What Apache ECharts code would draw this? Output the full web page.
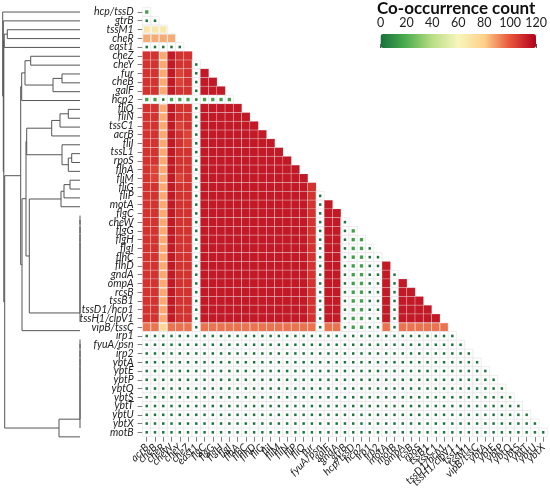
<!DOCTYPE html>
<html>
<head>
<meta charset="utf-8">
<script src="https://cdn.jsdelivr.net/npm/echarts@6/dist/echarts.min.js"></script>
<style>
html, body { margin: 0; padding: 0; background: #fff; }
#chart { width: 550px; height: 490px; }
</style>
</head>
<body>
<div id="chart"></div>
<script>
// rows in dendrogram order (top to bottom)
var rowGenes = ['hcp/tssD', 'gtrB', 'tssM1', 'cheR', 'east1', 'cheZ', 'cheY', 'fur', 'cheB', 'galF',
    'hcp2', 'fliQ', 'fliN', 'tssC1', 'acrB', 'fliI', 'tssL1', 'rpoS', 'flhA', 'fliM', 'fliG', 'fliP',
    'motA', 'flgC', 'cheW', 'flgG', 'flgH', 'flgI', 'flhC', 'flhD', 'gndA', 'ompA', 'rcsB', 'tssB1',
    'tssD1/hcp1', 'tssH1/clpV1', 'vipB/tssC', 'irp1', 'fyuA/psn', 'irp2', 'ybtA', 'ybtE', 'ybtP',
    'ybtQ', 'ybtS', 'ybtT', 'ybtU', 'ybtX', 'motB'];

// columns in alphabetical order
var colGenes = ['acrB', 'cheB', 'cheR', 'cheW', 'cheY', 'cheZ', 'east1', 'flgC', 'flgG', 'flgH', 'flgI',
    'flhA', 'flhC', 'flhD', 'fliG', 'fliI', 'fliM', 'fliN', 'fliP', 'fliQ', 'fur', 'fyuA/psn', 'galF',
    'gndA', 'gtrB', 'hcp/tssD', 'hcp2', 'irp1', 'irp2', 'motA', 'motB', 'ompA', 'rcsB', 'rpoS', 'tssB1',
    'tssC1', 'tssD1/hcp1', 'tssH1/clpV1', 'tssL1', 'tssM1', 'vipB/tssC', 'ybtA', 'ybtE', 'ybtP', 'ybtQ',
    'ybtS', 'ybtT', 'ybtU', 'ybtX'];

// co-occurrence count read per cell, one letter per cell
var codeValues = {'.': 0, 'g': 15, 'Y': 68, 'o': 76, 'O': 86, 'P': 95, 'q': 104, 'r': 108, 'R': 114};

var rowCodes = [
    'g',
    '..',
    'YYY',
    'OOOO',
    '.....',
    'rrORrr',
    'rrORrr.',
    'rrORqr.R',
    'rrORqr.RR',
    'rrORrr.RRR',
    'gg.ggg.gggg',
    'rrORrr.RRRRR',
    'rrORrr.RRRRRR',
    'rrORqr.RRRRRRR',
    'rrORrq.RRRRRRRR',
    'rrORrq.RRRRRRRRR',
    'rrORrr.RRRRRRRRRR',
    'rrORrr.RRRRRRRRRRR',
    'rqORrr.RRRRRRRRRRRR',
    'rqORqr.RRRRRRRRRRRRR',
    'rrORrr.RRRRRRRRRRRRRr',
    'rrORrr.RRRRRRRRRRRRRr.',
    'rrORrr.RRRRRRRRRRRRRr.R',
    'rrORrr.RRRRRRRRRRRRRr.RR',
    'rrORrr.RRRRRRRRRRRRRr.RR.',
    'rrORrr.RRRRRRRRRRRRRr.RR.g',
    'rrORrr.RRRRRRRRRRRRRr.RR.gg',
    'rrORrr.RRRRRRRRRRRRRr.RR.gg.',
    'rrORrr.RRRRRRRRRRRRRr.RR.gg..',
    'rrORrr.RRRRRRRRRRRRRr.RR.gg..R',
    'rrORrr.RRRRRRRRRRRRRr.RR.gg..R.',
    'rrORrr.RRRRRRRRRRRRRr.RR.gg..R.R',
    'rrORrr.RRRRRRRRRRRRRr.RR.gg..R.RR',
    'rrORrr.RRRRRRRRRRRRRr.RR.gg..R.RRR',
    'rrORrr.RRRRRRRRRRRRRr.RR.gg..R.RRRR',
    'rrORrr.RRRRRRRRRRRRRr.RR.gg..R.RRRRR',
    'PPoPPP.PPPPPPPPPPPPPP.PP.gg..P.PPPPPP',
    '..........' + '..........' + '..........' + '........',
    '..........' + '..........' + '..........' + '.........',
    '..........' + '..........' + '..........' + '..........',
    '..........' + '..........' + '..........' + '..........' + '.',
    '..........' + '..........' + '..........' + '..........' + '..',
    '..........' + '..........' + '..........' + '..........' + '...',
    '..........' + '..........' + '..........' + '..........' + '....',
    '..........' + '..........' + '..........' + '..........' + '.....',
    '..........' + '..........' + '..........' + '..........' + '......',
    '..........' + '..........' + '..........' + '..........' + '.......',
    '..........' + '..........' + '..........' + '..........' + '........',
    '..........' + '..........' + '..........' + '..........' + '.........'
];

// dendrogram merges: [id, left, right, height]
var merges = [
    ['tc', 'tssM1', 'cheR', 72.7],
    ['T', 'tc', 'east1', 75.8],
    ['cz', 'cheZ', 'cheY', 49.3],
    ['fb', 'fur', 'cheB', 18],
    ['fbg', 'fb', 'galF', 27],
    ['CZ', 'cz', 'fbg', 55],
    ['U', 'CZ', 'hcp2', 58.3],
    ['a', 'fliQ', 'fliN', 11.7],
    ['b', 'a', 'tssC1', 20],
    ['c', 'b', 'acrB', 28.3],
    ['d', 'tssL1', 'rpoS', 8.3],
    ['e', 'd', 'flhA', 11.7],
    ['f', 'fliI', 'e', 18],
    ['R1', 'c', 'f', 53.3],
    ['g', 'fliM', 'fliG', 10],
    ['h', 'g', 'fliP', 16],
    ['R2a', 'h', 'motA', 19],
    ['z1', 'flgC', 'cheW', 0],
    ['z2', 'z1', 'flgG', 0],
    ['z3', 'z2', 'flgH', 0],
    ['z4', 'z3', 'flgI', 0],
    ['z5', 'z4', 'flhC', 0],
    ['z6', 'z5', 'flhD', 0],
    ['z7', 'z6', 'gndA', 0],
    ['z8', 'z7', 'ompA', 0],
    ['z9', 'z8', 'rcsB', 0],
    ['z10', 'z9', 'tssB1', 0],
    ['z11', 'z10', 'tssD1/hcp1', 0],
    ['z12', 'z11', 'tssH1/clpV1', 0],
    ['R2', 'R2a', 'z12', 50.7],
    ['R', 'R1', 'R2', 54],
    ['V', 'R', 'vipB/tssC', 58],
    ['NB', 'U', 'V', 59.3],
    ['y1', 'irp1', 'fyuA/psn', 0],
    ['y2', 'y1', 'irp2', 0],
    ['y3', 'y2', 'ybtA', 0],
    ['y4', 'y3', 'ybtE', 0],
    ['y5', 'y4', 'ybtP', 0],
    ['y6', 'y5', 'ybtQ', 0],
    ['y7', 'y6', 'ybtS', 0],
    ['y8', 'y7', 'ybtT', 0],
    ['y9', 'y8', 'ybtU', 0],
    ['y10', 'y9', 'ybtX', 0],
    ['NC', 'y10', 'motB', 21],
    ['A3', 'NB', 'NC', 75.3],
    ['A2', 'T', 'A3', 76.2],
    ['A1', 'gtrB', 'A2', 76.7],
    ['root', 'hcp/tssD', 'A1', 77.3]
];

var legendColors = ['#17703a', '#4fae4f', '#b9de86', '#f7f6bc', '#fdd08a', '#e8543a', '#b3001e'];
var legendMin = 0, legendMax = 120, legendStep = 20;

var cells = [];
rowCodes.forEach(function (codes, r) {
    for (var c = 0; c < codes.length; c++) {
        cells.push([c, r, codeValues[codes[c]]]);
    }
});

var leafY = {}, nodeY = {}, nodeH = {};
rowGenes.forEach(function (g, i) { leafY[g] = i; });
var yOf = function (id) { return id in nodeY ? nodeY[id] : leafY[id]; };
var hOf = function (id) { return id in nodeH ? nodeH[id] : 0; };
var treeLines = merges.map(function (m) {
    var yl = yOf(m[1]), yr = yOf(m[2]);
    var line = {coords: [[hOf(m[1]), yl], [m[3], yl], [m[3], yr], [hOf(m[2]), yr]]};
    nodeY[m[0]] = (yl + yr) / 2;
    nodeH[m[0]] = m[3];
    return line;
});

var font = 'Lato';
var labelStyle = {fontStyle: 'italic', fontSize: 10.5, color: '#222', fontFamily: font, interval: 0, margin: 9};
var tickStyle = {show: true, length: 5, alignWithLabel: true, interval: 0, lineStyle: {color: '#808080'}};

var chart = echarts.init(document.getElementById('chart'));
chart.setOption({
    animation: false,
    title: {
        text: 'Co-occurrence count', left: 377, top: 0, padding: 0,
        textStyle: {fontSize: 17, fontWeight: 'bold', color: '#111', fontFamily: font}
    },
    grid: [
        {left: 142.6, top: 7.6, width: 404.7, height: 433.7},
        {left: 2.7, top: 7.6, width: 77.3, height: 433.7},
        {left: 380.5, top: 34, width: 155.5, height: 14}
    ],
    xAxis: [
        {
            type: 'category', data: colGenes, gridIndex: 0, position: 'bottom',
            axisLine: {show: false}, axisTick: tickStyle,
            axisLabel: Object.assign({rotate: 45}, labelStyle), splitLine: {show: false}
        },
        {type: 'value', gridIndex: 1, min: 0, max: 77.3, inverse: true, show: false},
        {
            type: 'value', gridIndex: 2, min: legendMin, max: legendMax, interval: legendStep, position: 'top',
            axisLine: {show: false}, splitLine: {show: false},
            axisTick: {show: true, length: 4, lineStyle: {color: '#555'}},
            axisLabel: {fontSize: 12.5, color: '#222', fontFamily: font, margin: 5}
        }
    ],
    yAxis: [
        {
            type: 'category', data: rowGenes, gridIndex: 0, inverse: true,
            axisLine: {show: false}, axisTick: tickStyle, axisLabel: labelStyle, splitLine: {show: false}
        },
        {type: 'value', gridIndex: 1, min: -0.5, max: 48.5, inverse: true, show: false},
        {type: 'value', gridIndex: 2, show: false}
    ],
    visualMap: {
        type: 'continuous', min: legendMin, max: legendMax, orient: 'horizontal',
        left: 380.5, top: 34, itemWidth: 14, itemHeight: 155.5, padding: 0,
        calculable: false, seriesIndex: 0, dimension: 2, text: null, hoverLink: false,
        inRange: {color: legendColors}
    },
    series: [
        {
            type: 'custom', xAxisIndex: 0, yAxisIndex: 0, data: cells, silent: true,
            renderItem: function (params, api) {
                var p = api.coord([api.value(0), api.value(1)]);
                var s = api.size([1, 1]);
                var f = Math.min(1, 0.3 + 0.7 * api.value(2) / 105);
                var w = s[0] * f, h = s[1] * f;
                return {
                    type: 'group',
                    children: [
                        {
                            type: 'rect',
                            shape: {x: p[0] - s[0] / 2, y: p[1] - s[1] / 2, width: s[0], height: s[1]},
                            style: {fill: '#fff', stroke: '#e3e3e3', lineWidth: 0.6}
                        },
                        {
                            type: 'rect',
                            shape: {x: p[0] - w / 2, y: p[1] - h / 2, width: w, height: h},
                            style: {fill: api.visual('color'), stroke: 'rgba(255,255,255,0.15)', lineWidth: 0.5}
                        }
                    ]
                };
            }
        },
        {
            type: 'lines', coordinateSystem: 'cartesian2d', xAxisIndex: 1, yAxisIndex: 1,
            polyline: true, silent: true, data: treeLines,
            lineStyle: {color: '#555', width: 1, opacity: 1}
        },
        {type: 'scatter', xAxisIndex: 2, yAxisIndex: 2, data: [], silent: true}
    ]
});
</script>
</body>
</html>
